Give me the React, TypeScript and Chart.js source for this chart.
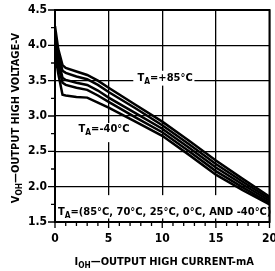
import React, { useEffect, useRef } from "react";
import { Chart, registerables } from "chart.js";

Chart.register(...registerables);

const currents = [0, 0.3, 0.7, 1, 2, 3, 4, 5, 7.5, 10, 12.5, 15, 17.5, 20];
const curve85 = [4.27, 3.95, 3.72, 3.68, 3.63, 3.58, 3.5, 3.4, 3.16, 2.92, 2.65, 2.37, 2.11, 1.86];
const curve70 = [4.19, 3.88, 3.64, 3.61, 3.56, 3.52, 3.44, 3.34, 3.11, 2.87, 2.6, 2.32, 2.07, 1.83];
const curve25 = [4.1, 3.8, 3.54, 3.51, 3.47, 3.44, 3.36, 3.26, 3.04, 2.82, 2.55, 2.27, 2.03, 1.8];
const curve0 = [4.02, 3.72, 3.47, 3.44, 3.4, 3.37, 3.29, 3.2, 2.98, 2.77, 2.5, 2.22, 1.99, 1.77];
const curveM40 = [3.9, 3.6, 3.3, 3.29, 3.27, 3.26, 3.19, 3.12, 2.92, 2.72, 2.45, 2.17, 1.95, 1.75];
const seriesList = [curve85, curve70, curve25, curve0, curveM40];

const xTicks = [0, 5, 10, 15, 20];
const yTicks = [1.5, 2.0, 2.5, 3.0, 3.5, 4.0, 4.5];

const FONT_FAMILY = '"Liberation Sans Narrow", "DejaVu Sans Condensed", "Liberation Sans", sans-serif';
const f = (size: number) => `bold ${size}px ${FONT_FAMILY}`;

type Seg = { t: string; sub?: boolean };

function drawSegs(ctx: CanvasRenderingContext2D, segs: Seg[], x: number, y: number, size: number, align: "left" | "center") {
  let total = 0;
  for (const s of segs) {
    ctx.font = f(s.sub ? size * 0.75 : size);
    total += ctx.measureText(s.t).width;
  }
  let cx = align === "center" ? x - total / 2 : x;
  ctx.textAlign = "left";
  ctx.textBaseline = "alphabetic";
  for (const s of segs) {
    ctx.font = f(s.sub ? size * 0.75 : size);
    ctx.fillText(s.t, cx, s.sub ? y + size * 0.3 : y);
    cx += ctx.measureText(s.t).width;
  }
  return total;
}

const decorPlugin = {
  id: "decor",
  beforeDatasetsDraw(chart: any) {
    const { ctx, chartArea: a, scales } = chart;
    const xs = scales.x;
    const ys = scales.y;
    ctx.save();
    ctx.fillStyle = "#fff";
    ctx.fillRect(xs.getPixelForValue(7.3), ys.getPixelForValue(3.64), xs.getPixelForValue(13) - xs.getPixelForValue(7.3), ys.getPixelForValue(3.43) - ys.getPixelForValue(3.64));
    ctx.fillRect(xs.getPixelForValue(2.1), ys.getPixelForValue(2.9), xs.getPixelForValue(8.2) - xs.getPixelForValue(2.1), ys.getPixelForValue(2.63) - ys.getPixelForValue(2.9));
    ctx.fillRect(a.left + 1, ys.getPixelForValue(1.88), a.right - a.left - 2, ys.getPixelForValue(1.55) - ys.getPixelForValue(1.88));
    ctx.fillStyle = "#000";
    drawSegs(ctx, [{ t: "T" }, { t: "A", sub: true }, { t: "=+85°C" }], xs.getPixelForValue(7.7), ys.getPixelForValue(3.5), 11, "left");
    drawSegs(ctx, [{ t: "T" }, { t: "A", sub: true }, { t: "=-40°C" }], xs.getPixelForValue(2.2), ys.getPixelForValue(2.78), 11, "left");
    drawSegs(ctx, [{ t: "T" }, { t: "A", sub: true }, { t: "=(85°C, 70°C, 25°C, 0°C, AND -40°C)" }], a.left + 3, ys.getPixelForValue(1.6), 11, "left");
    ctx.restore();
  },
  afterDraw(chart: any) {
    const { ctx, chartArea: a, scales } = chart;
    const xs = scales.x;
    const ys = scales.y;
    ctx.save();
    ctx.strokeStyle = "#000";
    ctx.lineWidth = 2;
    ctx.strokeRect(a.left, a.top, a.right - a.left, a.bottom - a.top);
    ctx.lineWidth = 1.3;
    ctx.beginPath();
    for (let v = 0; v <= 20; v += 1) {
      const px = xs.getPixelForValue(v);
      ctx.moveTo(px, a.bottom);
      ctx.lineTo(px, a.bottom + (v % 5 === 0 ? 6 : 4));
    }
    for (let v = 1.5; v <= 4.5001; v += 0.25) {
      const py = ys.getPixelForValue(v);
      ctx.moveTo(a.left, py);
      ctx.lineTo(a.left - (Math.abs((v * 2) % 1) < 0.01 ? 7 : 4), py);
    }
    ctx.stroke();
    ctx.fillStyle = "#000";
    ctx.font = f(12);
    ctx.textAlign = "right";
    ctx.textBaseline = "middle";
    for (const v of yTicks) {
      ctx.fillText(v.toFixed(1), a.left - 8, ys.getPixelForValue(v));
    }
    ctx.textAlign = "center";
    ctx.textBaseline = "top";
    for (const v of xTicks) {
      ctx.fillText(String(v), xs.getPixelForValue(v), a.bottom + 11);
    }
    drawSegs(ctx, [{ t: "I" }, { t: "OH", sub: true }, { t: "—OUTPUT HIGH CURRENT-mA" }], (a.left + a.right) / 2 + 2, a.bottom + 43, 11, "center");
    ctx.translate(19, (a.top + a.bottom) / 2 + 2);
    ctx.rotate(-Math.PI / 2);
    drawSegs(ctx, [{ t: "V" }, { t: "OH", sub: true }, { t: "—OUTPUT HIGH VOLTAGE-V" }], 0, 0, 11, "center");
    ctx.restore();
  },
};

export default function App() {
  const ref = useRef<HTMLCanvasElement | null>(null);
  useEffect(() => {
    document.body.style.margin = "0";
    const canvas = ref.current;
    if (!canvas) return;
    const chart = new Chart(canvas, {
      type: "line",
      data: {
        datasets: seriesList.map((s, i) => ({
          label: ["85°C", "70°C", "25°C", "0°C", "-40°C"][i],
          data: currents.map((x, j) => ({ x, y: s[j] })),
          borderColor: "#000",
          borderWidth: 2.5,
          pointRadius: 0,
          tension: 0,
          fill: false,
        })),
      },
      options: {
        responsive: false,
        animation: false,
        events: [],
        layout: { padding: { left: 55, top: 10, right: 5.5, bottom: 49 } },
        plugins: { legend: { display: false }, tooltip: { enabled: false }, title: { display: false } },
        scales: {
          x: {
            type: "linear",
            min: 0,
            max: 20,
            ticks: { display: false, stepSize: 5 },
            grid: { color: "#000", lineWidth: 1.3, drawTicks: false },
            border: { display: false },
          },
          y: {
            type: "linear",
            min: 1.5,
            max: 4.5,
            ticks: { display: false, stepSize: 0.5 },
            grid: { color: "#000", lineWidth: 1.3, drawTicks: false },
            border: { display: false },
          },
        },
      },
      plugins: [decorPlugin],
    });
    return () => chart.destroy();
  }, []);
  return (
    <div style={{ width: 275, height: 271, background: "#fff" }}>
      <canvas ref={ref} width={275} height={271} />
    </div>
  );
}
